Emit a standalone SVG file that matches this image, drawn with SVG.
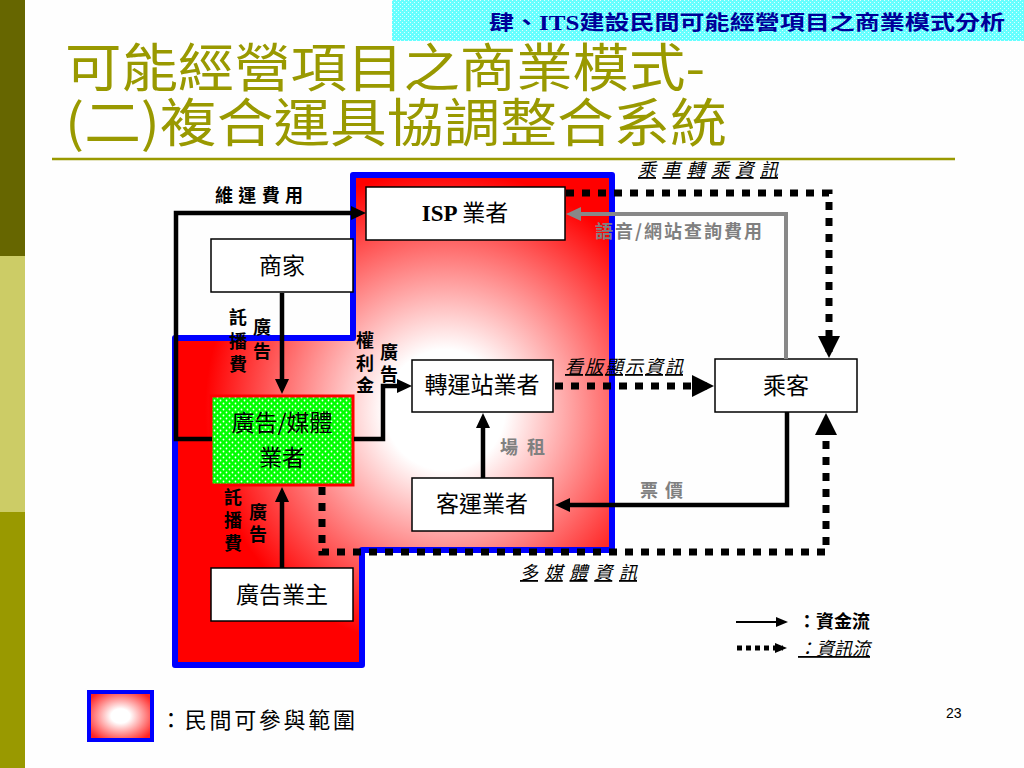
<svg xmlns="http://www.w3.org/2000/svg" width="1024" height="768" viewBox="0 0 1024 768">
<style>
.box{fill:#fff;stroke:#000;stroke-width:1.5}
.bt{font-family:"Noto Sans CJK TC","Noto Sans",sans-serif;font-size:23px;fill:#000;text-anchor:middle}
.money{fill:none;stroke:#000;stroke-width:4.5;marker-end:url(#ab)}
.info{fill:none;stroke:#000;stroke-width:7;stroke-dasharray:8 8;marker-end:url(#ad)}
.lbl{font-family:"Noto Sans CJK TC","Noto Sans",sans-serif;font-weight:700;font-size:18px;fill:#000;text-anchor:middle}
.lbs{font-family:"Noto Sans CJK TC","Noto Sans",sans-serif;font-weight:700;font-size:18px;fill:#000}
.gl{font-family:"Noto Sans CJK TC","Noto Sans",sans-serif;font-weight:700;font-size:18px;fill:#808080}
.it{font-family:"Noto Sans CJK TC","Noto Sans",sans-serif;font-style:italic;font-size:18px;fill:#000;text-decoration:underline}
</style>
<defs>
<pattern id="cy" width="4" height="4" patternUnits="userSpaceOnUse">
<rect width="4" height="4" fill="#66FFFF"/><rect width="1" height="1" fill="#DDFFFF"/><rect x="2" y="2" width="1" height="1" fill="#DDFFFF"/>
</pattern>
<pattern id="gd" width="6" height="6" patternUnits="userSpaceOnUse">
<rect width="6" height="6" fill="#00FF00"/><circle cx="1.5" cy="1.5" r="0.9" fill="#fff"/><circle cx="4.5" cy="4.5" r="0.9" fill="#fff"/>
</pattern>
<radialGradient id="rg" gradientUnits="userSpaceOnUse" cx="445" cy="410" r="240">
<stop offset="0" stop-color="#fff"/><stop offset="0.25" stop-color="#fff"/><stop offset="1" stop-color="#f00"/>
</radialGradient>
<radialGradient id="lg" cx="0.5" cy="0.5" r="0.6">
<stop offset="0" stop-color="#fff"/><stop offset="0.25" stop-color="#fff"/><stop offset="1" stop-color="#f22"/>
</radialGradient>
<marker id="ab" markerUnits="userSpaceOnUse" markerWidth="16" markerHeight="16" refX="9" refY="8" orient="auto"><path d="M0,1 L15,8 L0,15 z" fill="#000"/></marker>
<marker id="ag" markerUnits="userSpaceOnUse" markerWidth="16" markerHeight="16" refX="9" refY="8" orient="auto"><path d="M0,1 L15,8 L0,15 z" fill="#888"/></marker>
<marker id="ad" markerUnits="userSpaceOnUse" markerWidth="24" markerHeight="24" refX="16" refY="12" orient="auto"><path d="M0,1 L22,12 L0,23 z" fill="#000"/></marker>
<marker id="as" markerUnits="userSpaceOnUse" markerWidth="14" markerHeight="12" refX="8" refY="6" orient="auto"><path d="M0,1 L12,6 L0,11 z" fill="#000"/></marker>
</defs>
<rect width="1024" height="768" fill="#fefefe"/>
<g id="sidebar">
<rect x="0" y="0" width="25" height="256" fill="#666600"/>
<rect x="0" y="256" width="25" height="256" fill="#CCCC66"/>
<rect x="0" y="512" width="25" height="256" fill="#999900"/>
</g>
<g id="header">
<rect x="392" y="0" width="632" height="41" fill="url(#cy)"/>
<text x="489" y="30" textLength="516" lengthAdjust="spacingAndGlyphs" font-family="Liberation Serif,'Noto Sans CJK TC',serif" font-weight="700" font-size="20" fill="#000099">肆、ITS建設民間可能經營項目之商業模式分析</text>
</g>
<g id="title" font-family="'Noto Sans CJK TC','Noto Sans',sans-serif" font-size="52" fill="#999900">
<text x="65" y="87" textLength="640" lengthAdjust="spacingAndGlyphs">可能經營項目之商業模式-</text>
<text x="65" y="142" textLength="662" lengthAdjust="spacingAndGlyphs">(二)複合運具協調整合系統</text>
<line x1="52" y1="159" x2="955" y2="159" stroke="#999900" stroke-width="2.5"/>
</g>
<g id="private-region">
<path d="M353,175 H612 V550 H362 V665 H175 V338 H353 Z" fill="url(#rg)" stroke="#0000FF" stroke-width="6" stroke-linejoin="round"/>
</g>
<g id="isp">
<rect class="box" x="366" y="187" width="199" height="53"/>
<text x="465" y="221" text-anchor="middle" font-size="23"><tspan font-family="Liberation Serif,serif" font-weight="700">ISP </tspan><tspan font-family="'Noto Sans CJK TC',sans-serif">業者</tspan></text>
</g>
<g id="merchant">
<rect class="box" x="211" y="239" width="142" height="53"/>
<text class="bt" x="282" y="274">商家</text>
</g>
<g id="ad-media">
<rect x="211" y="396" width="142" height="89" fill="url(#gd)" stroke="#FF0000" stroke-width="3"/>
<text class="bt" x="282" y="431" font-size="19" fill="#102010">廣告/媒體</text>
<text class="bt" x="282" y="466" font-size="19" fill="#102010">業者</text>
</g>
<g id="station">
<rect class="box" x="412" y="360" width="141" height="52"/>
<text class="bt" x="482" y="393" font-size="21">轉運站業者</text>
</g>
<g id="bus">
<rect class="box" x="412" y="478" width="141" height="53"/>
<text class="bt" x="482" y="512" font-size="21">客運業者</text>
</g>
<g id="passenger">
<rect class="box" x="715" y="359" width="142" height="53"/>
<text class="bt" x="786" y="394">乘客</text>
</g>
<g id="advertiser">
<rect class="box" x="211" y="568" width="142" height="53"/>
<text class="bt" x="282" y="603">廣告業主</text>
</g>
<g id="connectors">
<path class="money" d="M212,439 H176 V213 H360"/>
<path class="money" d="M282,293 V388"/>
<path class="money" d="M282,568 V493"/>
<path class="money" d="M354,439 H383 V386 H406"/>
<path class="money" d="M483,478 V419"/>
<path class="money" d="M787,412 V505 H561"/>
<path d="M786,359 V214 H572" fill="none" stroke="#888" stroke-width="4" marker-end="url(#ag)"/>
<path class="info" d="M566,193 H829 V352"/>
<path class="info" d="M555,386 H708"/>
<path class="info" d="M322,487 V552 H826 V419"/>
</g>
<g id="labels">
<text class="lbs" x="215" y="202" textLength="88">維運費用</text>
<text class="lbl"><tspan x="238" y="324">託</tspan><tspan x="238" y="348">播</tspan><tspan x="238" y="371">費</tspan></text>
<text class="lbl"><tspan x="262" y="334">廣</tspan><tspan x="262" y="358">告</tspan></text>
<text class="lbl"><tspan x="233" y="504">託</tspan><tspan x="233" y="527">播</tspan><tspan x="233" y="550">費</tspan></text>
<text class="lbl"><tspan x="258" y="519">廣</tspan><tspan x="258" y="541">告</tspan></text>
<text class="lbl"><tspan x="365" y="347">權</tspan><tspan x="365" y="370">利</tspan><tspan x="365" y="392">金</tspan></text>
<text class="lbl"><tspan x="389" y="359">廣</tspan><tspan x="389" y="381">告</tspan></text>
<text class="gl" x="500" y="454" textLength="45">場租</text>
<text class="gl" x="640" y="497" font-size="19" textLength="43">票價</text>
<text class="gl" x="595" y="238" textLength="167">語音/網站查詢費用</text>
<text class="it" x="638" y="176" font-size="20" textLength="140">乘車轉乘資訊</text>
<text class="it" x="565" y="373" font-size="17" textLength="118">看版顯示資訊</text>
<text class="it" x="520" y="579" font-size="20" textLength="117">多媒體資訊</text>
</g>
<g id="flow-legend">
<path d="M736,622 H784" stroke="#000" stroke-width="2" marker-end="url(#as)"/>
<text class="lbs" x="798" y="628" font-size="17" textLength="72">：資金流</text>
<path d="M737,648 H783" stroke="#000" stroke-width="5" stroke-dasharray="5 4" marker-end="url(#as)"/>
<text class="it" x="798" y="655" font-size="17" textLength="72">：資訊流</text>
</g>
<g id="region-legend">
<rect x="89" y="692" width="63" height="48" fill="url(#lg)" stroke="#0000FF" stroke-width="4"/>
<text x="160" y="728" font-family="'Noto Sans CJK TC','Noto Sans',sans-serif" font-size="22" fill="#000" textLength="195">：民間可參與範圍</text>
</g>
<text x="946" y="718" font-family="Liberation Sans,sans-serif" font-size="14" fill="#000">23</text>
</svg>
